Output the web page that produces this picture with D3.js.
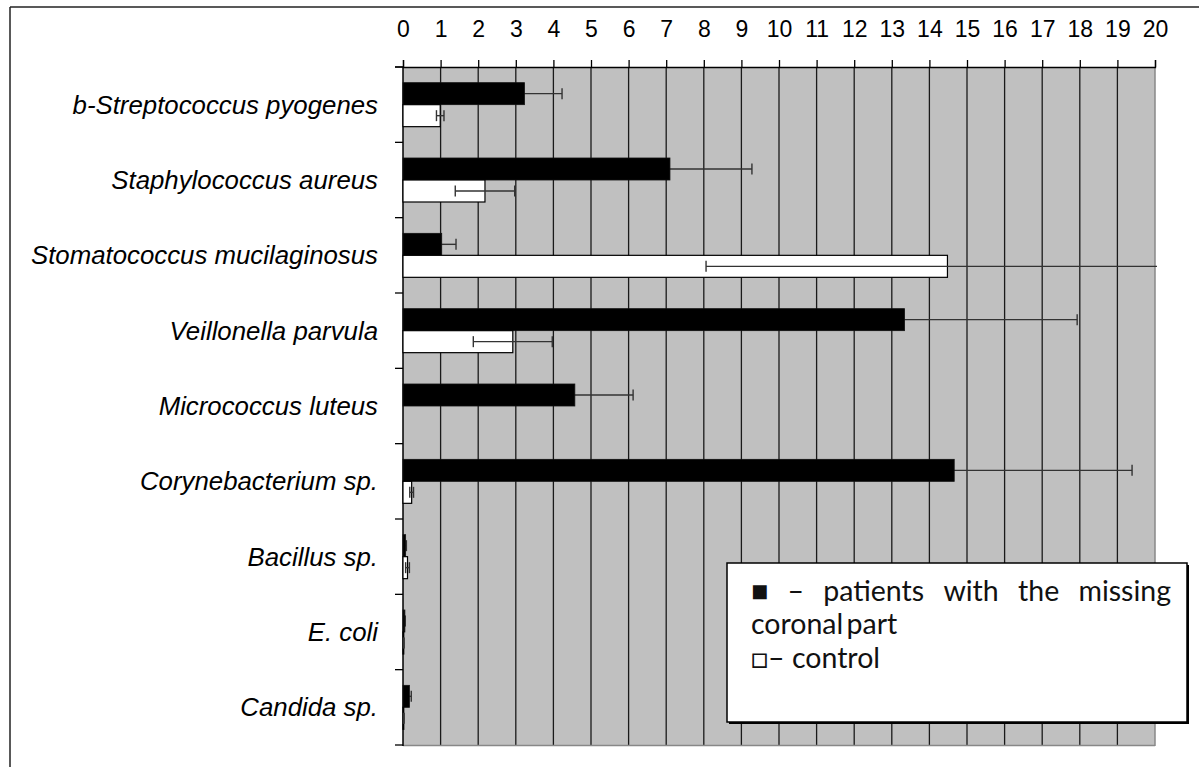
<!DOCTYPE html>
<html>
<head>
<meta charset="utf-8">
<script src="https://cdn.jsdelivr.net/npm/d3@7"></script>
<style>
  html, body { margin: 0; padding: 0; background: #fff; }
  svg { display: block; }
</style>
</head>
<body>
<svg id="chart" width="1199" height="767"></svg>
<script>
const categories = [
  "b-Streptococcus pyogenes",
  "Staphylococcus aureus",
  "Stomatococcus mucilaginosus",
  "Veillonella parvula",
  "Micrococcus luteus",
  "Corynebacterium sp.",
  "Bacillus sp.",
  "E. coli",
  "Candida sp."
];
const patients    = [3.23, 7.10, 1.03, 13.34, 4.57, 14.66, 0.07, 0.05, 0.17];
const patientsErr = [1.00, 2.18, 0.38, 4.59, 1.55, 4.73, 0.02, 0.01, 0.05];
const control     = [0.99, 2.18, 14.48, 2.92, 0, 0.23, 0.12, 0.02, 0.02];
const controlErr  = [0.10, 0.79, 6.42, 1.05, 0, 0.05, 0.05, 0.01, 0.01];
const xTicks = d3.range(0, 21);
const legendLine1 = ["\u25A0", "\u2013", "patients", "with", "the", "missing"];
const legendLine2 = "coronal part";
const legendLine3 = "\u25A1\u2013 control";

const svg = d3.select("#chart");
const x = d3.scaleLinear().domain([0, 20]).range([403, 1155]);
const y = d3.scaleBand().domain(categories).range([67, 745]).paddingInner(0).paddingOuter(0);
const barH = 22;

// outer frame (top + left)
svg.append("line").attr("x1", 10).attr("x2", 1199).attr("y1", 7).attr("y2", 7)
  .attr("stroke", "#222").attr("stroke-width", 1.5);
svg.append("line").attr("x1", 10).attr("x2", 10).attr("y1", 7).attr("y2", 767)
  .attr("stroke", "#222").attr("stroke-width", 1.5);

// plot background
svg.append("rect").attr("x", x(0)).attr("y", 67).attr("width", x(20) - x(0)).attr("height", 745 - 67)
  .attr("fill", "#c0c0c0");

// vertical grid lines
svg.append("g").selectAll("line").data(xTicks.filter(d => d > 0 && d < 20)).join("line")
  .attr("x1", d => x(d)).attr("x2", d => x(d)).attr("y1", 67).attr("y2", 745)
  .attr("stroke", "#1a1a1a").attr("stroke-width", 1.3);
// right & bottom plot border (gray)
svg.append("line").attr("x1", x(20)).attr("x2", x(20)).attr("y1", 67).attr("y2", 746)
  .attr("stroke", "#888").attr("stroke-width", 1.5);
svg.append("line").attr("x1", x(0)).attr("x2", x(20)).attr("y1", 745.5).attr("y2", 745.5)
  .attr("stroke", "#888").attr("stroke-width", 1.5);

// top axis
const xAxis = d3.axisTop(x).tickValues(xTicks).tickSize(7).tickFormat(d3.format("d"));
const gx = svg.append("g").attr("transform", "translate(0,67)").call(xAxis);
gx.select(".domain").attr("stroke", "#000").attr("stroke-width", 1.3);
gx.selectAll(".tick line").attr("stroke", "#000").attr("stroke-width", 1.3);
gx.selectAll(".tick text").attr("font-family", "'Liberation Sans', Arial, sans-serif")
  .attr("font-size", 23).attr("fill", "#000").attr("y", -30).attr("dy", 0);
svg.append("line").attr("x1", 395).attr("x2", x(0)).attr("y1", 67).attr("y2", 67)
  .attr("stroke", "#000").attr("stroke-width", 1.3);

// left axis: ticks at band boundaries
const boundaries = d3.range(categories.length + 1).map(i => 67 + i * y.bandwidth());
svg.append("line").attr("x1", x(0)).attr("x2", x(0)).attr("y1", 67).attr("y2", 746)
  .attr("stroke", "#000").attr("stroke-width", 1.5);
svg.append("g").selectAll("line").data(boundaries).join("line")
  .attr("x1", 395).attr("x2", x(0)).attr("y1", d => d).attr("y2", d => d)
  .attr("stroke", "#000").attr("stroke-width", 1.3);

// category labels
svg.append("g").selectAll("text").data(categories).join("text")
  .attr("x", 378).attr("y", d => y(d) + y.bandwidth() / 2 + 9)
  .attr("text-anchor", "end")
  .attr("font-family", "'Liberation Sans', Arial, sans-serif")
  .attr("font-style", "italic").attr("font-size", 25.8).attr("fill", "#000")
  .text(d => d);

const rows = categories.map((c, i) => ({
  c, p: patients[i], pe: patientsErr[i], k: control[i], ke: controlErr[i]
}));

// clip for error bars
svg.append("clipPath").attr("id", "plotclip").append("rect")
  .attr("x", 380).attr("y", 60).attr("width", x(20) - 380 + 2).attr("height", 700);

// error bars
function errorBars(data, val, err, yOff) {
  const g = svg.append("g").attr("clip-path", "url(#plotclip)")
    .attr("stroke", "#333").attr("stroke-width", 1.4).attr("fill", "none");
  const dd = data.filter(d => d[err] > 0);
  g.selectAll("line.h").data(dd).join("line").attr("class", "h")
    .attr("x1", d => x(d[val] - d[err])).attr("x2", d => x(d[val] + d[err]))
    .attr("y1", d => y(d.c) + y.bandwidth() / 2 + yOff).attr("y2", d => y(d.c) + y.bandwidth() / 2 + yOff);
  [-1, 1].forEach(s => {
    g.selectAll("line.c" + (s > 0 ? "p" : "m")).data(dd.filter(d => x(d[val] + s * d[err]) <= x(20)))
      .join("line").attr("class", "c" + (s > 0 ? "p" : "m"))
      .attr("x1", d => x(d[val] + s * d[err])).attr("x2", d => x(d[val] + s * d[err]))
      .attr("y1", d => y(d.c) + y.bandwidth() / 2 + yOff - 5.5)
      .attr("y2", d => y(d.c) + y.bandwidth() / 2 + yOff + 5.5);
  });
}

// patients error bars drawn beneath the black bars (inner half hidden)
errorBars(rows, "p", "pe", -barH / 2);

// patients bars (black)
svg.append("g").selectAll("rect").data(rows).join("rect")
  .attr("x", x(0)).attr("y", d => y(d.c) + y.bandwidth() / 2 - barH)
  .attr("width", d => x(d.p) - x(0)).attr("height", barH)
  .attr("fill", "#000").attr("stroke", "#111").attr("stroke-width", 0.8);

// control bars (white)
svg.append("g").selectAll("rect").data(rows.filter(d => d.k > 0)).join("rect")
  .attr("x", x(0)).attr("y", d => y(d.c) + y.bandwidth() / 2)
  .attr("width", d => x(d.k) - x(0)).attr("height", barH)
  .attr("fill", "#fff").attr("stroke", "#000").attr("stroke-width", 1.2);

errorBars(rows, "k", "ke", barH / 2);

// legend
const lg = { x: 727, y: 563, w: 460, h: 159 };
svg.append("rect").attr("x", lg.x + 2).attr("y", lg.y + 2).attr("width", lg.w).attr("height", lg.h).attr("fill", "#000");
svg.append("rect").attr("x", lg.x).attr("y", lg.y).attr("width", lg.w).attr("height", lg.h)
  .attr("fill", "#fff").attr("stroke", "#000").attr("stroke-width", 1.5);

const legFont = "Lato, 'Open Sans', sans-serif";
const legSize = 28.5;
const lx0 = 751, lx1 = 1171;
const words = svg.append("g").selectAll("text").data(legendLine1).join("text")
  .attr("y", 601).attr("font-family", legFont).attr("font-size", legSize).attr("fill", "#111")
  .text(d => d);
const widths = [];
words.each(function () { widths.push(this.getComputedTextLength()); });
const totalW = d3.sum(widths);
const gap = (lx1 - lx0 - totalW) / (legendLine1.length - 1);
let cx = lx0;
words.each(function (d, i) { d3.select(this).attr("x", cx); cx += widths[i] + gap; });

svg.append("text").attr("x", lx0).attr("y", 634).attr("font-family", legFont).attr("font-size", legSize)
  .attr("fill", "#111").attr("word-spacing", -4).text(legendLine2);
svg.append("text").attr("x", lx0).attr("y", 668).attr("font-family", legFont).attr("font-size", legSize)
  .attr("fill", "#111").text(legendLine3);
</script>
</body>
</html>
